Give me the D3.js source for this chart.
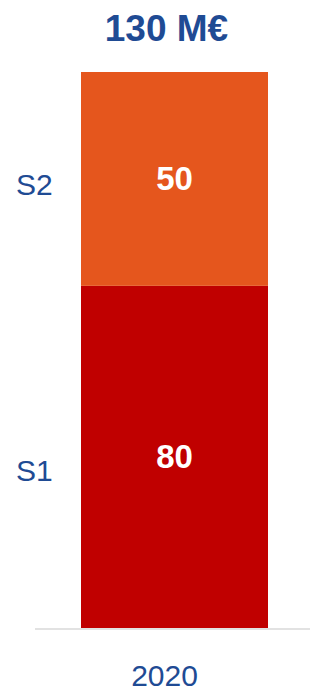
<!DOCTYPE html>
<html>
<head>
<meta charset="utf-8">
<script src="https://cdn.jsdelivr.net/npm/d3@7"></script>
<style>
html,body{margin:0;padding:0;background:#fff;}
svg{display:block;}
</style>
</head>
<body>
<svg id="chart" width="310" height="688"></svg>
<script>
const categories = ["2020"];
const seriesNames = ["S1", "S2"];
const s1Values = [80];
const s2Values = [50];
const totalLabels = ["130 M€"];
const colors = ["#C00000", "#E5561D"];

const W = 310, H = 688;
const svg = d3.select("#chart");
const blue = "#1F4B94";
const font = "'Liberation Sans', Arial, Helvetica, sans-serif";

const x = d3.scaleBand().domain(categories).range([81, 268]).padding(0);
const y = d3.scaleLinear().domain([0, 130]).range([628, 72]);

const data = categories.map((c, i) => ({cat: c, S1: s1Values[i], S2: s2Values[i]}));
const stacked = d3.stack().keys(seriesNames)(data);

stacked.forEach((layer, li) => {
  svg.append("g").selectAll("rect").data(layer).enter().append("rect")
    .attr("x", d => x(d.data.cat))
    .attr("width", x.bandwidth())
    .attr("y", d => y(d[1]))
    .attr("height", d => y(d[0]) - y(d[1]))
    .attr("fill", colors[li]);
  svg.append("g").selectAll("text").data(layer).enter().append("text")
    .attr("x", d => x(d.data.cat) + x.bandwidth() / 2)
    .attr("y", d => (y(d[0]) + y(d[1])) / 2 + 11)
    .attr("text-anchor", "middle")
    .style("font-family", font)
    .attr("font-weight", "bold")
    .attr("font-size", 33)
    .attr("fill", "#fff")
    .text(d => d[1] - d[0]);
  const mid = (y(layer[0][0]) + y(layer[0][1])) / 2;
  svg.append("text")
    .attr("x", 16)
    .attr("y", mid + (li === 0 ? 24.5 : 16.5))
    .style("font-family", font)
    .attr("font-size", 30)
    .attr("fill", blue)
    .text(seriesNames[li]);
});

svg.append("line")
  .attr("x1", 35).attr("x2", 310)
  .attr("y1", y(0) + 1).attr("y2", y(0) + 1)
  .attr("stroke", "#D9D9D9").attr("stroke-width", 1.5);

svg.append("g").selectAll("text").data(categories).enter().append("text")
  .attr("x", d => x(d) + x.bandwidth() / 2 - 10)
  .attr("y", 686)
  .attr("text-anchor", "middle")
  .style("font-family", font)
  .attr("font-size", 30)
  .attr("fill", blue)
  .text(d => d);

svg.append("g").selectAll("text").data(categories).enter().append("text")
  .attr("x", (d, i) => x(d) + x.bandwidth() / 2 - 8)
  .attr("y", 41)
  .attr("text-anchor", "middle")
  .style("font-family", font)
  .attr("font-weight", "bold")
  .attr("font-size", 37)
  .attr("fill", blue)
  .text((d, i) => totalLabels[i]);
</script>
</body>
</html>
